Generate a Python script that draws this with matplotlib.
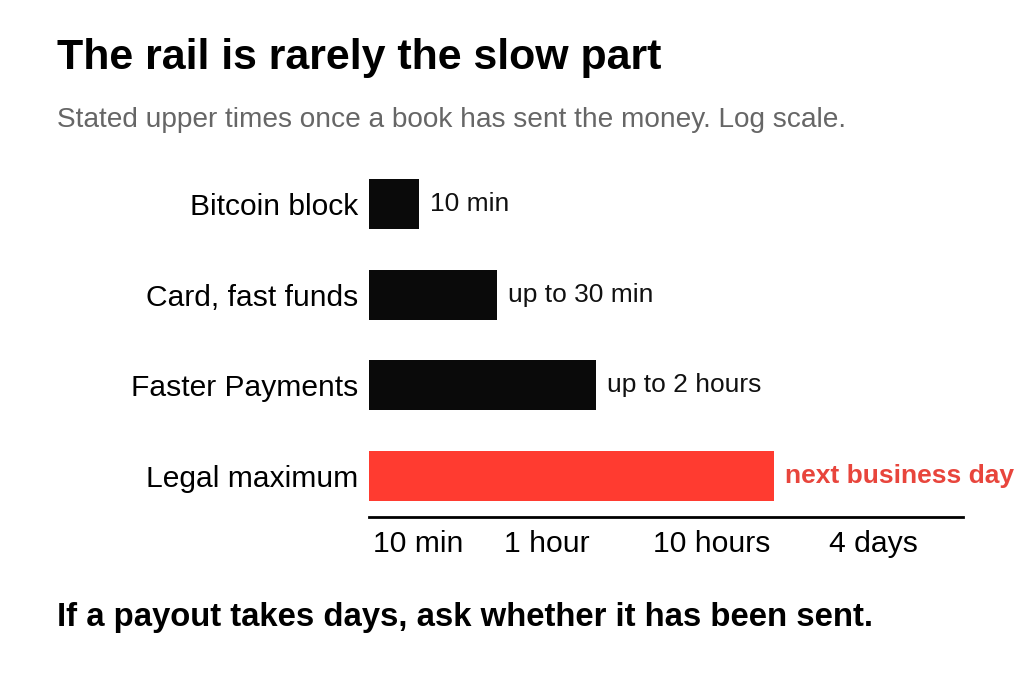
import numpy as np
import matplotlib.pyplot as plt

# data (minutes)
rails = ['Bitcoin block', 'Card, fast funds', 'Faster Payments', 'Legal maximum']
upper_minutes = [10, 30, 120, 1440]
value_labels = ['10 min', 'up to 30 min', 'up to 2 hours', 'next business day']
tick_minutes = [10, 60, 600, 5760]
tick_labels = ['10 min', '1 hour', '10 hours', '4 days']

axis_min = 5
axis_max = 20160

plt.rcParams['font.family'] = ['Liberation Sans', 'DejaVu Sans']

fig = plt.figure(figsize=(10.24, 6.82), dpi=100)
ax = fig.add_axes([369 / 1024, 1 - 517 / 682, (963 - 369) / 1024, (517 - 163) / 682])

colors = ['#0a0a0a', '#0a0a0a', '#0a0a0a', '#ff3b30']
y = np.arange(len(rails))
widths = [v - axis_min for v in upper_minutes]
ax.barh(y, widths, left=axis_min, height=0.55, color=colors)

ax.set_xscale('log')
ax.set_xlim(axis_min, axis_max)
ax.set_ylim(len(rails) - 1 + 0.452, -0.452)

for i, (v, lab) in enumerate(zip(upper_minutes, value_labels)):
    if i == len(rails) - 1:
        ax.annotate(lab, (v, i), xytext=(8, 0), textcoords='offset points',
                    va='center', ha='left', fontsize=19, fontweight='bold', color='#e8453c')
    else:
        ax.annotate(lab, (v, i), xytext=(8, 0), textcoords='offset points',
                    va='center', ha='left', fontsize=19, color='#111111')

ax.set_yticks(y)
ax.set_yticklabels(rails, fontsize=21.6)
ax.tick_params(axis='y', length=0, pad=8)
ax.set_xticks(tick_minutes)
ax.set_xticklabels(tick_labels, fontsize=21.7)
ax.xaxis.set_minor_locator(plt.NullLocator())
ax.tick_params(axis='x', length=0, pad=9)

for s in ['top', 'right', 'left']:
    ax.spines[s].set_visible(False)
ax.spines['bottom'].set_linewidth(2)

fig.text(57 / 1024, 1 - 69 / 682, 'The rail is rarely the slow part', fontsize=30.9,
         fontweight='bold', va='baseline', ha='left')
fig.text(57 / 1024, 1 - 127 / 682, 'Stated upper times once a book has sent the money. Log scale.',
         fontsize=20.15, color='#666666', va='baseline', ha='left')
fig.text(57 / 1024, 1 - 626 / 682, 'If a payout takes days, ask whether it has been sent.',
         fontsize=23.7, fontweight='bold', va='baseline', ha='left')

fig.savefig('out.png', dpi=100)
